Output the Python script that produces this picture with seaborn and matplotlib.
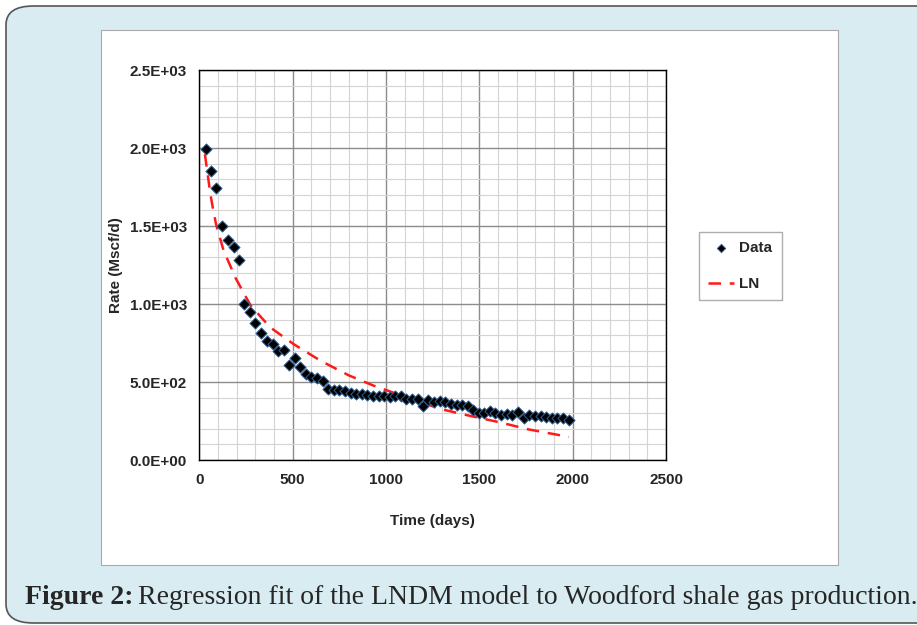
import numpy as np
import pandas as pd
import seaborn as sns
import matplotlib.pyplot as plt
from matplotlib.patches import FancyBboxPatch, Rectangle
from matplotlib.ticker import MultipleLocator, FuncFormatter

# Dữ liệu
time_days = [36, 61, 91, 123, 152, 184, 211, 240, 272, 300, 333, 363, 393, 422, 454,
             483, 513, 542, 570, 601, 631, 660, 690, 720, 751, 781, 810, 841, 871, 900,
             930, 960, 991, 1021, 1050, 1078, 1109, 1139, 1170, 1200, 1227, 1257, 1288,
             1318, 1348, 1379, 1409, 1439, 1468, 1499, 1525, 1557, 1586, 1617, 1647,
             1677, 1708, 1737, 1767, 1797, 1828, 1856, 1887, 1917, 1947, 1978]
rate = [1992, 1851, 1744, 1500, 1412, 1364, 1283, 1000, 951, 878, 814, 765, 743, 696, 707,
        609, 651, 598, 551, 535, 525, 508, 458, 450, 450, 441, 430, 426, 422, 418,
        411, 409, 409, 405, 409, 413, 392, 392, 392, 343, 386, 375, 381,
        373, 362, 353, 350, 343, 319, 304, 300, 313, 304, 287, 296,
        287, 308, 272, 289, 285, 281, 276, 272, 268, 268, 255]

fit_time = [30, 45, 60, 75, 90, 130, 195, 275, 380, 505, 650, 800, 935, 1115, 1295,
            1450, 1615, 1760, 1980]
fit_rate = [1960, 1830, 1700, 1600, 1510, 1343, 1165, 990, 850, 743, 636, 543, 476, 400,
            326, 283, 240, 197, 148]

df = pd.DataFrame({"time": time_days, "rate": rate})
df_fit = pd.DataFrame({"time": fit_time, "rate": fit_rate})

sns.set_style("white")
plt.rcParams["font.family"] = ["Liberation Sans", "DejaVu Sans"]

fig = plt.figure(figsize=(9.17, 6.25), dpi=100)
fig.patch.set_facecolor("white")

# nền xanh nhạt có viền bo góc (tràn ra mép phải)
bg = FancyBboxPatch((6 / 917, 2 / 625), 960 / 917, 617 / 625,
                    boxstyle="round,pad=0,rounding_size=0.03",
                    transform=fig.transFigure, facecolor="#d8ecf1",
                    edgecolor="#555555", linewidth=1.2, zorder=0)
fig.patches.append(bg)
panel = Rectangle((101 / 917, 1 - 565 / 625), 737 / 917, 535 / 625,
                  transform=fig.transFigure, facecolor="white",
                  edgecolor="#aaaaaa", linewidth=0.8, zorder=1)
fig.patches.append(panel)

ax = fig.add_axes([199.3 / 917, 1 - 460 / 625, 466.7 / 917, 390 / 625])
ax.set_zorder(2)

sns.lineplot(data=df_fit, x="time", y="rate", ax=ax, color="#ff1a1a", lw=1.8,
             sort=False, label="LN", zorder=3)
ax.lines[0].set_dashes([5, 3.5])
sns.scatterplot(data=df, x="time", y="rate", ax=ax, marker="D", s=32,
                color="black", edgecolor="#2d5f96", linewidth=0.7,
                label="Data", zorder=4)

ax.set_xlim(0, 2500)
ax.set_ylim(0, 2500)
ax.xaxis.set_major_locator(MultipleLocator(500))
ax.xaxis.set_minor_locator(MultipleLocator(100))
ax.yaxis.set_major_locator(MultipleLocator(500))
ax.yaxis.set_minor_locator(MultipleLocator(100))
ax.yaxis.set_major_formatter(FuncFormatter(lambda v, p: "%.1E" % v))
ax.grid(which="major", color="#8c8c8c", lw=1.0)
ax.grid(which="minor", color="#d4d4d4", lw=0.8)
ax.set_axisbelow(True)
for s in ax.spines.values():
    s.set_color("black")
    s.set_linewidth(1.0)
ax.tick_params(which="major", direction="out", length=4, width=0.8,
               labelsize=11, pad=5)
ax.tick_params(which="minor", direction="out", length=3, width=0.6)
ax.tick_params(axis="x", which="minor", length=0)
for lab in ax.get_xticklabels() + ax.get_yticklabels():
    lab.set_fontweight("bold")

ax.set_xlabel("Time (days)", fontsize=11, fontweight="bold", labelpad=20)
ax.set_ylabel("Rate (Mscf/d)", fontsize=11, fontweight="bold", labelpad=5)

handles, labels = ax.get_legend_handles_labels()
order = [labels.index("Data"), labels.index("LN")]
leg = fig.legend([handles[i] for i in order], [labels[i] for i in order],
                 loc="upper left", bbox_to_anchor=(699 / 917, 1 - 232 / 625),
                 borderaxespad=0, frameon=True, fancybox=False, edgecolor="#999999",
                 prop={"weight": "bold", "size": 11}, handlelength=1.7,
                 handletextpad=0.35, borderpad=0.6, labelspacing=1.45,
                 markerscale=0.75)
leg.get_frame().set_linewidth(1.0)
if ax.get_legend():
    ax.get_legend().remove()

# chú thích hình
fs = 20
t1 = fig.text(25 / 917, 1 - 597 / 625, "Figure 2:", fontsize=fs, fontweight="bold",
              family=["Liberation Serif"], va="center", ha="left")
fig.canvas.draw()
bb = t1.get_window_extent()
x2 = (bb.x1 + 5) / fig.bbox.width
fig.text(x2, 1 - 597 / 625, "Regression fit of the LNDM model to Woodford shale gas production.",
         fontsize=fs, family=["Liberation Serif"], va="center", ha="left")

fig.savefig("out.png", dpi=100)
